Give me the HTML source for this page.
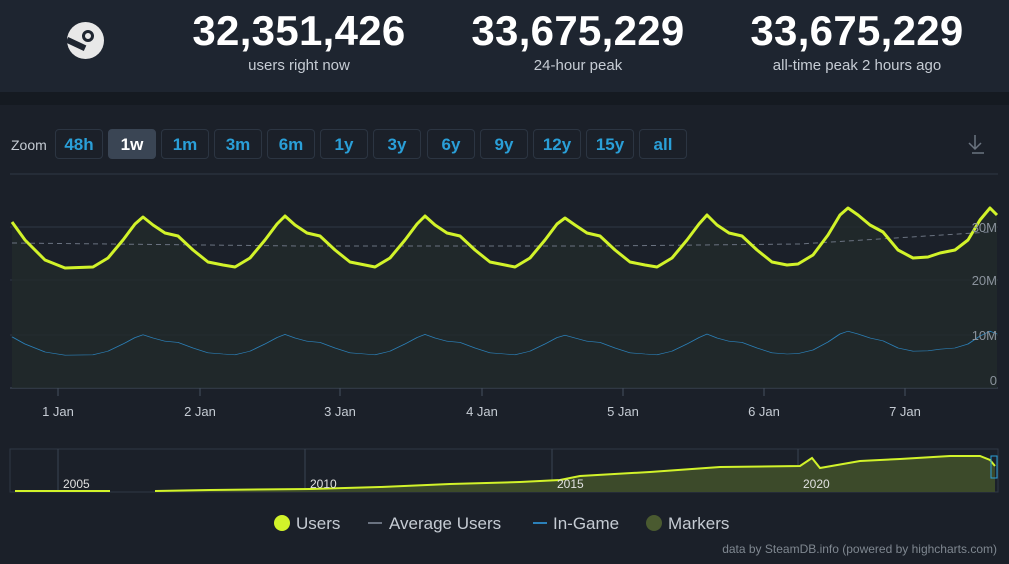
<!DOCTYPE html><html><head><meta charset="utf-8"><style>
body{margin:0;width:1009px;height:564px;background:#1b2029;font-family:"Liberation Sans",sans-serif;overflow:hidden;position:relative}
.hdr{position:absolute;left:0;top:0;width:1009px;height:92px;background:#1e2530}
.sep{position:absolute;left:0;top:92px;width:1009px;height:13px;background:#151a21}
.big{position:absolute;top:7px;color:#fff;font-weight:bold;font-size:42px;text-align:center;width:280px;letter-spacing:0.3px}
.sub{position:absolute;top:57px;color:#c6ccd4;font-size:15px;text-align:center;width:280px}
.btn{position:absolute;top:129px;height:30px;border:1px solid #2c3542;border-radius:4px;color:#2a9fd8;font-weight:bold;font-size:17px;line-height:30px;text-align:center;box-sizing:border-box}
.lbl{position:absolute;color:#c5cbd3;font-size:13px}
</style></head><body>
<div class="hdr"></div><div class="sep"></div>
<div style="position:absolute;left:67px;top:22px;width:37px;height:37px;border-radius:50%;background:#e8e8e8"></div>
<div style="position:absolute;left:82px;top:30px;width:12px;height:12px;border-radius:50%;border:3px solid #1e2530;box-sizing:border-box"></div>
<div style="position:absolute;left:66px;top:41px;width:20px;height:6px;background:#1e2530;transform:rotate(25deg)"></div>
<div class="big" style="left:159px">32,351,426</div><div class="sub" style="left:159px">users right now</div>
<div class="big" style="left:438px">33,675,229</div><div class="sub" style="left:438px">24-hour peak</div>
<div class="big" style="left:717px">33,675,229</div><div class="sub" style="left:717px">all-time peak 2 hours ago</div>
<div class="lbl" style="left:11px;top:137px;font-size:14px">Zoom</div>
<div class="btn" style="left:55px;width:48px">48h</div>
<div class="btn" style="left:108px;width:48px;background:#3a4554;color:#fff;border-color:#3a4554">1w</div>
<div class="btn" style="left:161px;width:48px">1m</div>
<div class="btn" style="left:214px;width:48px">3m</div>
<div class="btn" style="left:267px;width:48px">6m</div>
<div class="btn" style="left:320px;width:48px">1y</div>
<div class="btn" style="left:373px;width:48px">3y</div>
<div class="btn" style="left:427px;width:48px">6y</div>
<div class="btn" style="left:480px;width:48px">9y</div>
<div class="btn" style="left:533px;width:48px">12y</div>
<div class="btn" style="left:586px;width:48px">15y</div>
<div class="btn" style="left:639px;width:48px">all</div>
<svg width="1009" height="564" style="position:absolute;left:0;top:0">
<path d="M975 135v14M969 143l6 6 6-6M972 153h12" stroke="#6b7480" stroke-width="1.5" fill="none"/>
<g stroke="#2f3845" stroke-width="1"><line x1="10" y1="174" x2="998" y2="174"/><line x1="10" y1="227" x2="998" y2="227"/><line x1="10" y1="280" x2="998" y2="280"/><line x1="10" y1="335" x2="998" y2="335"/><line x1="10" y1="388" x2="998" y2="388" stroke="#45505e"/></g>
<g stroke="#45505e"><line x1="58" y1="388" x2="58" y2="396"/><line x1="200" y1="388" x2="200" y2="396"/><line x1="340" y1="388" x2="340" y2="396"/><line x1="482" y1="388" x2="482" y2="396"/><line x1="623" y1="388" x2="623" y2="396"/><line x1="764" y1="388" x2="764" y2="396"/><line x1="905" y1="388" x2="905" y2="396"/></g>
<defs><polyline id="u" points="12,222 25,240 45,260 65,268 93,267 108,258 123,240 135,224 143,217 153,225 165,233 178,236 193,250 208,262 223,265 235,267 250,258 265,240 277,224 285,216 295,225 307,233 320,236 335,250 350,262 365,265 375,267 390,258 405,240 417,224 425,216 435,225 447,233 460,236 475,250 490,262 505,265 515,267 530,258 545,240 557,224 565,218 575,225 587,233 600,236 615,250 630,262 645,265 657,267 672,258 687,240 699,224 707,215 717,225 729,233 742,236 757,250 772,262 787,265 798,264 813,255 828,235 840,215 848,208 858,215 870,225 883,232 898,250 913,258 928,257 940,253 955,250 968,240 980,220 990,208 997,215"/></defs>
<polygon points="12,222 25,240 45,260 65,268 93,267 108,258 123,240 135,224 143,217 153,225 165,233 178,236 193,250 208,262 223,265 235,267 250,258 265,240 277,224 285,216 295,225 307,233 320,236 335,250 350,262 365,265 375,267 390,258 405,240 417,224 425,216 435,225 447,233 460,236 475,250 490,262 505,265 515,267 530,258 545,240 557,224 565,218 575,225 587,233 600,236 615,250 630,262 645,265 657,267 672,258 687,240 699,224 707,215 717,225 729,233 742,236 757,250 772,262 787,265 798,264 813,255 828,235 840,215 848,208 858,215 870,225 883,232 898,250 913,258 928,257 940,253 955,250 968,240 980,220 990,208 997,215 997,388 12,388" fill="#222a2a" opacity="0.8"/>
<path d="M12 243 L300 246 L600 246 L800 244 L990 232" stroke="#6a7280" stroke-dasharray="5,4" fill="none"/>
<use href="#u" transform="translate(0,248) scale(1,0.4)" fill="none" stroke="#2b80b9" stroke-width="1.5" vector-effect="non-scaling-stroke"/>
<use href="#u" fill="none" stroke="#d2f32a" stroke-width="3" stroke-linejoin="round"/>
<g fill="#8a929c" font-size="13" text-anchor="end"><text x="997" y="232">30M</text><text x="997" y="285">20M</text><text x="997" y="340">10M</text><text x="997" y="385">0</text></g>
<g fill="#c5cbd3" font-size="13" text-anchor="middle"><text x="58" y="416">1 Jan</text><text x="200" y="416">2 Jan</text><text x="340" y="416">3 Jan</text><text x="482" y="416">4 Jan</text><text x="623" y="416">5 Jan</text><text x="764" y="416">6 Jan</text><text x="905" y="416">7 Jan</text></g>
<rect x="10" y="449" width="988" height="43" fill="none" stroke="#2f3845"/>
<g stroke="#3a4452"><line x1="58" y1="449" x2="58" y2="492"/><line x1="305" y1="449" x2="305" y2="492"/><line x1="552" y1="449" x2="552" y2="492"/><line x1="798" y1="449" x2="798" y2="492"/></g>
<polygon points="155,491 210,490 310,489 380,487 450,484 520,482 560,480 580,476 650,472 720,467 800,466 812,458 820,468 860,461 900,459 950,456 980,456 990,460 995,466 995,492 155,492" fill="#3c4a2a"/>
<polyline points="155,491 210,490 310,489 380,487 450,484 520,482 560,480 580,476 650,472 720,467 800,466 812,458 820,468 860,461 900,459 950,456 980,456 990,460 995,466" fill="none" stroke="#d2f32a" stroke-width="2"/>
<line x1="15" y1="491" x2="110" y2="491" stroke="#d2f32a" stroke-width="2"/>
<g fill="#e0e0e0" font-size="12"><text x="63" y="488">2005</text><text x="310" y="488">2010</text><text x="557" y="488">2015</text><text x="803" y="488">2020</text></g>
<rect x="991" y="456" width="6" height="22" fill="none" stroke="#2b9fd8"/>
<circle cx="282" cy="523" r="8" fill="#d2f32a"/><text x="296" y="529" fill="#c5cbd3" font-size="17">Users</text>
<line x1="368" y1="523" x2="382" y2="523" stroke="#6a7280" stroke-width="2"/><text x="389" y="529" fill="#c5cbd3" font-size="17">Average Users</text>
<line x1="533" y1="523" x2="547" y2="523" stroke="#2b80b9" stroke-width="2"/><text x="553" y="529" fill="#c5cbd3" font-size="17">In-Game</text>
<circle cx="654" cy="523" r="8" fill="#4a5a30"/><text x="668" y="529" fill="#c5cbd3" font-size="17">Markers</text>
<text x="997" y="553" fill="#7f8790" font-size="12" text-anchor="end">data by SteamDB.info (powered by highcharts.com)</text>
</svg>
</body></html>
